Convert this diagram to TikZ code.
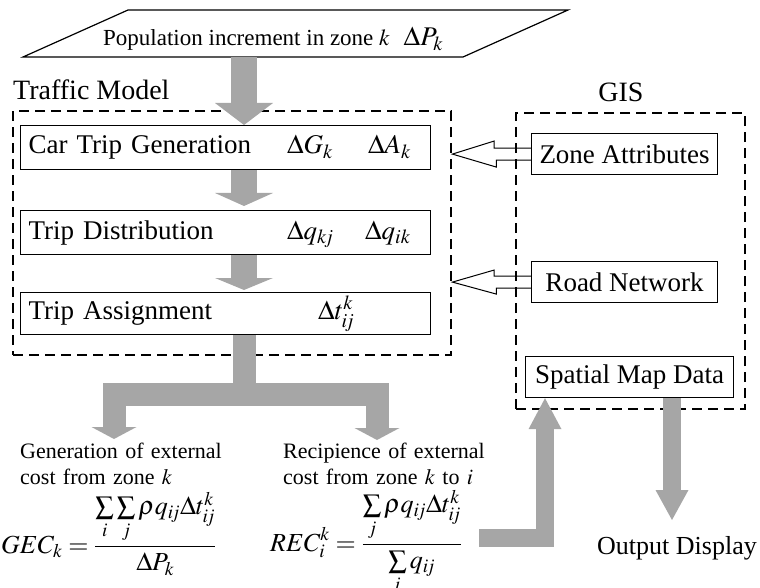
\documentclass[tikz,border=0pt]{standalone}
\usepackage{mathptmx}
\usepackage[no-math]{fontspec}
\setmainfont{Liberation Serif}
\usepackage{amsmath}
\usetikzlibrary{positioning, calc, arrows.meta}

\begin{document}
\begin{tikzpicture}[x=1pt, y=-1pt,
    every node/.style={font=\fontsize{27}{32}\selectfont},
    title/.style={font=\fontsize{28}{33}\selectfont, anchor=base west, inner sep=0pt},
    stage/.style={draw, line width=1.2pt, anchor=north west, inner sep=8pt,
                  text width=394pt, align=left, minimum height=44pt},
    qty/.style={anchor=base west, inner sep=0pt},
    gisbox/.style={draw, line width=1.2pt, anchor=north west, minimum height=41pt},
    frame/.style={draw, line width=2.4pt, dash pattern=on 10pt off 6pt, anchor=north west},
    note/.style={font=\fontsize{22}{26}\selectfont, anchor=north west, inner sep=0pt,
                 text width=240pt, align=left},
    formula/.style={font=\fontsize{26}{31}\selectfont, anchor=base west, inner sep=0pt},
    fat/.style={draw=black!35, line join=miter},
    hollow/.style={draw, line width=1pt, line join=miter}]

    \useasboundingbox (0,0) rectangle (760,588);

    % --- Population input (parallelogram) ---
    \draw[line width=1.2pt] (23,57) coordinate (popBL) -- (128,10) -- (568,10) -- (463,57) -- cycle;
    \node[anchor=base west, inner sep=0pt, font=\fontsize{23}{28}\selectfont] (pop) at (103,46)
        {Population increment in zone $k$\hspace{14pt}{\fontsize{27}{32}\selectfont$\Delta P_k$}};

    % --- Traffic Model frame and its three stages ---
    \node[frame, minimum width=438pt, minimum height=244pt] (tm) at (12,110) {};
    \node[title] (tmtitle) at (13,100) {Traffic Model};

    \node[stage] (gen) at (20,125) {Car Trip Generation};
    \node[stage] (dist) at (20,210) {Trip Distribution};
    \node[stage, minimum height=42pt] (assign) at (20,292) {Trip Assignment};

    \node[qty] (dG) at ([xshift=267pt]gen.base west) {$\Delta G_k$};
    \node[qty] (dA) at ([xshift=348pt]gen.base west) {$\Delta A_k$};
    \node[qty] (dqkj) at ([xshift=267pt]dist.base west) {$\Delta q_{k\!j}$};
    \node[qty] (dqik) at ([xshift=345pt]dist.base west) {$\Delta q_{ik}$};
    \node[qty] (dt) at ([xshift=298pt]assign.base west) {$\Delta t_{i\!j}^{k}$};

    % --- GIS frame ---
    \node[frame, minimum width=229pt, minimum height=296pt] (gis) at (515,112) {};
    \node[title, anchor=base] (gistitle) at (621,102) {GIS};

    \node[gisbox, minimum width=186pt] (za) at (531,133) {Zone Attributes};
    \node[gisbox, minimum width=186pt] (rn) at (531,261) {Road Network};
    \node[gisbox, minimum width=208pt] (smd) at (525,356) {Spatial Map Data};

    % --- External cost results ---
    \node[note] (gecnote) at (20,443) {Generation of external\\cost from zone $k$};
    \node[note] (recnote) at (283,443) {Recipience of external\\cost from zone $k$ to $i$};

    \node[formula] (gec) at (1,553)
        {$\displaystyle GEC_k = \frac{\sum\limits_{i}\sum\limits_{j}\rho q_{i\!j}\Delta t_{i\!j}^{k}}{\Delta P_k}$};
    \node[formula] (rec) at (270,551)
        {$\displaystyle REC_i^k = \frac{\sum\limits_{j}\rho q_{i\!j}\Delta t_{i\!j}^{k}}{\sum\limits_{i} q_{i\!j}}$};

    \node[anchor=base west, inner sep=0pt, font=\fontsize{26}{31}\selectfont] (out) at (597,554) {Output Display};

    % --- Gray flow arrows through the model ---
    \coordinate (spine) at (244,0);
    \draw[fat, line width=26pt, -{Triangle[width=58pt, length=22pt, line width=0pt]}]
        (popBL -| spine) -- (gen.north -| spine);
    \draw[fat, line width=26pt, shorten >=4pt, -{Triangle[width=58pt, length=13pt, line width=0pt]}]
        (gen.south -| spine) -- (dist.north -| spine);
    \draw[fat, line width=26pt, shorten >=2pt, -{Triangle[width=58pt, length=12pt, line width=0pt]}]
        (dist.south -| spine) -- (assign.north -| spine);

    % split towards the two cost measures
    \coordinate (fork) at (244,394);
    \coordinate (gecTip) at (114,439);
    \coordinate (recTip) at (377,440);
    \draw[fat, line width=23pt] (assign.south -| spine) -- (fork);
    \draw[fat, line width=23pt, -{Triangle[width=45pt, length=12pt, line width=0pt]}] (fork) -| (gecTip);
    \draw[fat, line width=23pt, -{Triangle[width=45pt, length=12pt, line width=0pt]}] (fork) -| (recTip);

    % results fed back to the map data, and out to the display
    \coordinate (feedIn) at (479,538);
    \coordinate (dispTip) at (672,520);
    \draw[fat, line width=18pt, -{Triangle[width=33pt, length=31pt, line width=0pt]}]
        (feedIn) -| ([xshift=20pt]smd.south west);
    \draw[fat, line width=18pt, -{Triangle[width=33pt, length=30pt, line width=0pt]}]
        (smd.south -| dispTip) -- (dispTip);

    % --- Hollow arrows from GIS data into the model ---
    \draw[hollow] ([yshift=6pt]za.west) -- ++(-37,0) -- ++(0,-7) -- (tm.east |- za.west)
        -- ++(44,13) -- ++(0,-7) -- ([yshift=-6pt]za.west);
    \draw[hollow] ([yshift=6pt]rn.west) -- ++(-37,0) -- ++(0,-6) -- (tm.east |- rn.west)
        -- ++(44,12) -- ++(0,-6) -- ([yshift=-6pt]rn.west);

\end{tikzpicture}
\end{document}
